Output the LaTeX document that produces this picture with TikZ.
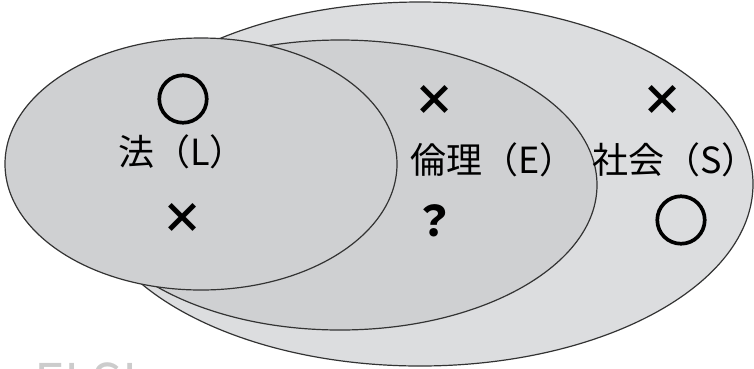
\documentclass[tikz,border=0pt]{standalone}
\usepackage{fontspec}
\setmainfont{Noto Sans CJK JP}
\newfontfamily\ringfont{Noto Sans CJK JP}[FakeBold=3]
\usepackage{xcolor}
\definecolor{outergray}{HTML}{DCDDDF}
\definecolor{innergray}{HTML}{CFD0D2}
\definecolor{rimgray}{HTML}{333333}
\tikzstyle{rim}=[draw=rimgray,line width=1.2pt]
\tikzstyle{lbl}=[inner sep=0pt,anchor=west,font=\fontsize{36}{40}\selectfont]
\tikzstyle{sign}=[inner sep=0pt,font=\bfseries\fontsize{42}{46}\selectfont]
\tikzstyle{ring}=[sign,font=\ringfont\fontsize{55}{60}\selectfont]

\begin{document}
\begin{tikzpicture}[x=1pt,y=-1pt]
  \useasboundingbox (0,0) rectangle (754,368);
  % background tag, cut off by the page edge
  \node[inner sep=0pt,anchor=north west,text=black!20,
        font=\fontsize{52}{56}\selectfont] (elsi) at (34,362) {ELSI};

  % society, ethics, law
  \draw[rim,fill=outergray] (420,184) ellipse [x radius=333,y radius=182];
  \draw[rim,fill=innergray] (340,185) ellipse [x radius=257,y radius=145];
  \draw[rim,fill=innergray] (201,164) ellipse [x radius=196,y radius=126];

  \node[lbl] (law) at (118,152) {法（L）};
  \node[lbl] (eth) at (410,160) {倫理（E）};
  \node[lbl] (soc) at (592,160) {社会（S）};

  \foreach \n/\x/\y/\s in {lawB/182/218/×, ethA/434/100/×,
                           ethB/434/221/？, socA/662/100/×}
    \node[sign] (\n) at (\x,\y) {\s};
  \node[ring] (lawA) at (183,99) {○};
  \node[ring] (socB) at (681,220) {○};
\end{tikzpicture}
\end{document}
